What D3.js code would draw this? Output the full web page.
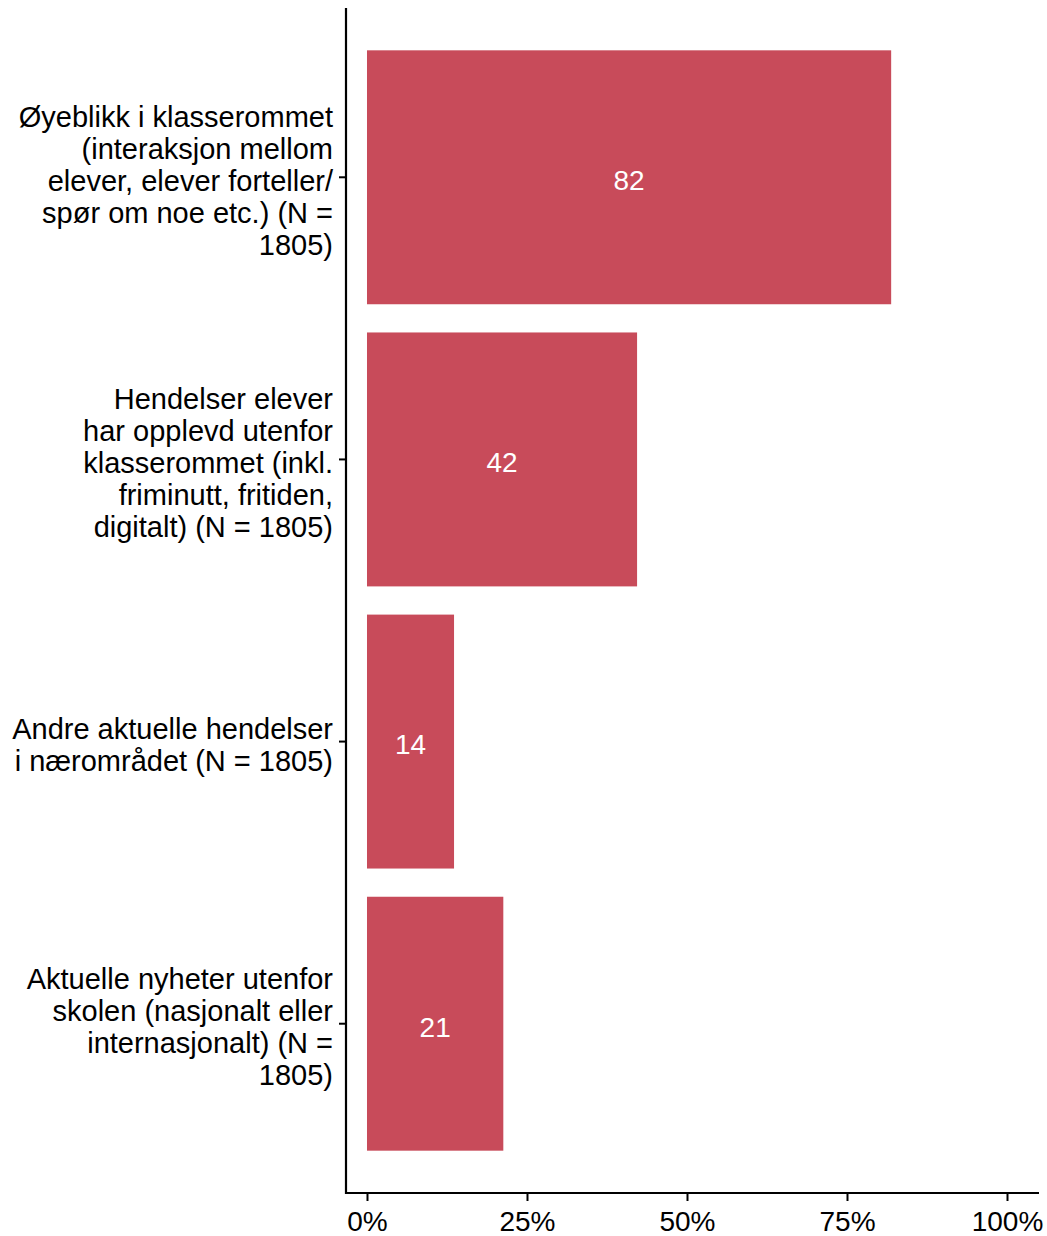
<!DOCTYPE html>
<html>
<head>
<meta charset="utf-8">
<script src="https://cdn.jsdelivr.net/npm/d3@7"></script>
<style>
  body { margin: 0; background: #fff; }
  svg { display: block; }
  text { font-family: "Liberation Sans", Arial, Helvetica, sans-serif; }
</style>
</head>
<body>
<svg id="chart" width="1047" height="1236"></svg>
<script>
const categories = [
  "Øyeblikk i klasserommet\n(interaksjon mellom\nelever, elever forteller/\nspør om noe etc.) (N =\n1805)",
  "Hendelser elever\nhar opplevd utenfor\nklasserommet (inkl.\nfriminutt, fritiden,\ndigitalt) (N = 1805)",
  "Andre aktuelle hendelser\ni nærområdet (N = 1805)",
  "Aktuelle nyheter utenfor\nskolen (nasjonalt eller\ninternasjonalt) (N =\n1805)"
];
const values = [81.9, 42.2, 13.6, 21.3];
const tickValues = [0, 25, 50, 75, 100];
const tickLabels = ["0%", "25%", "50%", "75%", "100%"];

(function () {
const svg = d3.select("#chart");
const pLeft = 346, pRight = 1039, pTop = 8, pBottom = 1193;
const barColor = "#C84B5A";
const labelSize = 29;
const numSize = 28;
const lineH = 32;

const x = d3.scaleLinear().domain([-3.28, 105]).range([pLeft, pRight]);
const y = d3.scaleBand().domain(categories).range([pTop, pBottom])
  .paddingInner(0.1).paddingOuter(0.15);

// bars
svg.append("g").selectAll("rect")
  .data(values)
  .join("rect")
  .attr("x", x(0))
  .attr("y", (d, i) => y(categories[i]))
  .attr("width", d => x(d) - x(0))
  .attr("height", y.bandwidth())
  .attr("fill", barColor);

// value labels
svg.append("g").selectAll("text")
  .data(values)
  .join("text")
  .attr("x", d => (x(0) + x(d)) / 2)
  .attr("y", (d, i) => y(categories[i]) + y.bandwidth() / 2)
  .attr("dy", "0.46em")
  .attr("text-anchor", "middle")
  .attr("fill", "#fff")
  .attr("font-size", numSize)
  .text(d => Math.round(d));

// y axis
const yAxis = d3.axisLeft(y).tickSize(7).tickFormat("");
const gy = svg.append("g").attr("transform", `translate(${pLeft},0)`).call(yAxis);
gy.select(".domain").remove();
gy.selectAll(".tick line").attr("stroke", "#000").attr("stroke-width", 2);
svg.append("line").attr("x1", pLeft).attr("x2", pLeft).attr("y1", pTop).attr("y2", pBottom + 1)
  .attr("stroke", "#000").attr("stroke-width", 2.2);

// y labels (multi-line)
const ylab = svg.append("g").selectAll("text")
  .data(categories)
  .join("text")
  .attr("text-anchor", "end")
  .attr("font-size", labelSize)
  .attr("fill", "#000");
ylab.each(function(c) {
  const lines = c.split("\n");
  const cy = y(c) + y.bandwidth() / 2;
  const y0 = cy - (lines.length - 1) * lineH / 2;
  d3.select(this).selectAll("tspan")
    .data(lines)
    .join("tspan")
    .attr("x", 333)
    .attr("y", (l, i) => y0 + i * lineH)
    .attr("dy", "0.46em")
    .text(l => l);
});

// x axis
const xAxis = d3.axisBottom(x).tickValues(tickValues).tickSize(8)
  .tickFormat((d, i) => tickLabels[i]);
const gx = svg.append("g").attr("transform", `translate(0,${pBottom})`).call(xAxis);
gx.select(".domain").remove();
gx.selectAll(".tick line").attr("stroke", "#000").attr("stroke-width", 2);
gx.selectAll(".tick text").attr("font-size", numSize).attr("fill", "#000")
  .attr("font-family", "'Liberation Sans', Arial, sans-serif").attr("dy", "0").attr("y", 38);
svg.append("line").attr("x1", pLeft - 1).attr("x2", pRight).attr("y1", pBottom).attr("y2", pBottom)
  .attr("stroke", "#000").attr("stroke-width", 2.2);
})();
</script>
</body>
</html>
